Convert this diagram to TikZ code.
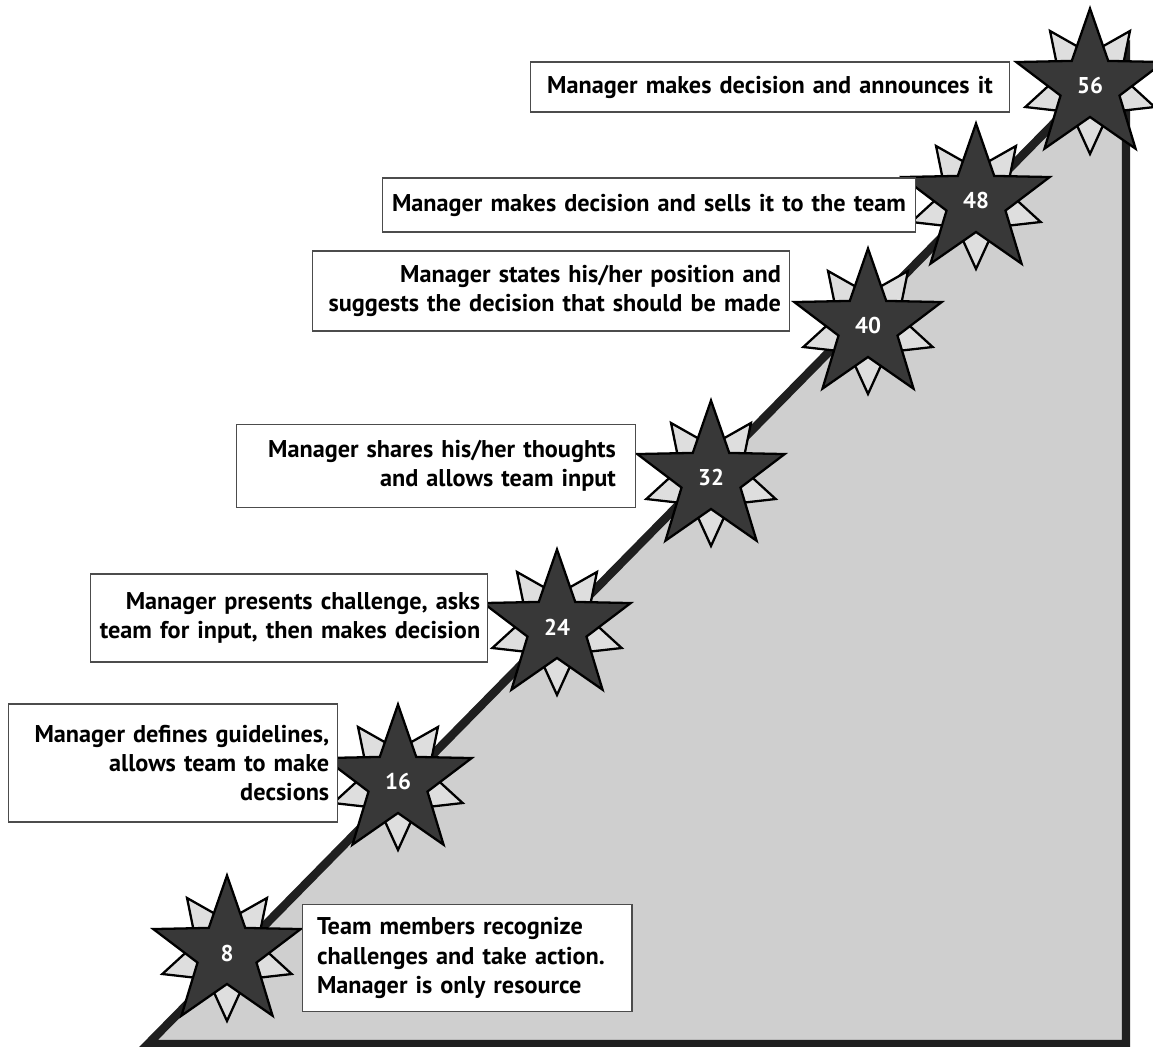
\documentclass[tikz,border=0pt]{standalone}
\usepackage{fontspec}
\setmainfont{PT Sans}
\usetikzlibrary{shapes.geometric}
\tikzset{
  ramp/.style={draw=black!88, line width=4.8pt, fill=black!19},
  note/.style={rectangle, draw=black!70, line width=0.6pt, fill=white,
               inner xsep=0.1cm, inner ysep=0.15cm,
               font=\fontsize{13.8}{16.6}\selectfont\bfseries},
  burst/.style={star, star points=5, star point ratio=2.5, draw=black,
                line width=1.3pt, fill=black!78, minimum size=3.1cm,
                inner sep=0pt, text=white,
                font=\fontsize{13}{15}\selectfont\bfseries},
  backburst/.style={burst, fill=black!13, star point ratio=2.1,
                    minimum size=2.72cm, shape border rotate=180},
}

\begin{document}
\begin{tikzpicture}[x=0.02cm, y=-0.02cm]
  \useasboundingbox (0,0) rectangle (1153,1047);

  % the ramp
  \coordinate (foot) at (148,1044);
  \coordinate (apex) at (1126,50);
  \coordinate (base) at (1126,1044);
  \draw[ramp] (foot) -- (apex) -- (base) -- cycle;

  % stars along the ramp
  \foreach \lvl/\x/\y in {8/227/953, 16/398/782, 24/557/627, 32/711/478,
                          40/868/326, 48/976/201, 56/1090/86}{
    \node[backburst] (b\lvl) at (\x,\y) {};
    \node[burst] (s\lvl) at (\x,\y) {\lvl};
  }

  % notes, top to bottom (they sit over the stars)
  \node[note, minimum width=9.6cm, text width=9.2cm, minimum height=1.0cm, align=center] (n56) at (770,87)
    {Manager makes decision and announces it};
  \node[note, minimum width=10.66cm, text width=10.4cm, minimum height=1.08cm, align=center] (n48) at (649,205)
    {Manager makes decision and sells it to the team};
  \node[note, minimum width=9.56cm, text width=9.2cm, minimum height=1.6cm, align=right] (n40) at (551,291)
    {Manager states his/her position and\\suggests the decision that should be made};
  \node[note, minimum width=8.0cm, text width=7.2cm, minimum height=1.66cm, align=right] (n32) at (436,466)
    {Manager shares his/her thoughts\\and allows team input};
  \node[note, minimum width=7.96cm, text width=7.65cm, minimum height=1.76cm, align=right] (n24) at (289,618)
    {Manager presents challenge, asks\\team for input, then makes decision};
  \node[note, minimum width=6.6cm, text width=6.25cm, minimum height=2.36cm, align=right] (n16) at (173,763)
    {Manager defines guidelines,\\allows team to make\\decsions};
  \node[note, minimum width=6.6cm, text width=6.0cm, minimum height=2.14cm, align=left] (n8) at (467,958)
    {Team members recognize\\challenges and take action.\\Manager is only resource};
\end{tikzpicture}
\end{document}
